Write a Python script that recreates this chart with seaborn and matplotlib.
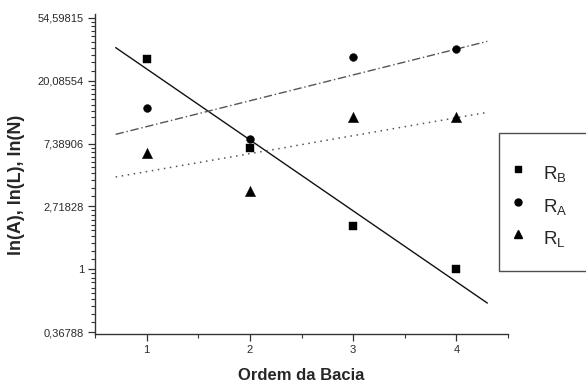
import numpy as np
import pandas as pd
import matplotlib
matplotlib.use("Agg")
import matplotlib.pyplot as plt
from matplotlib.ticker import FixedLocator, FixedFormatter
import seaborn as sns

# Data
ordem = [1, 2, 3, 4]
r_b = [28.5, 6.9, 2.0, 1.0]
r_a = [13.1, 8.0, 29.4, 33.4]
r_l = [6.4, 3.45, 11.2, 11.2]
series_names = ["R_B", "R_A", "R_L"]
legend_labels = [r"$\mathregular{R_B}$", r"$\mathregular{R_A}$", r"$\mathregular{R_L}$"]
ytick_exps = [-1, 0, 1, 2, 3, 4]
ytick_labels = ["0,36788", "1", "2,71828", "7,38906", "20,08554", "54,59815"]
xticks = [1, 2, 3, 4]

sns.set_style("ticks")
plt.rcParams["font.family"] = ["Liberation Sans", "DejaVu Sans"]
plt.rcParams["mathtext.fontset"] = "custom"
plt.rcParams["mathtext.rm"] = "Liberation Sans"

fig = plt.figure(figsize=(5.86, 3.85), dpi=100)
ax = fig.add_axes([95 / 586, 1 - 334 / 385, (508 - 95) / 586, (334 - 14) / 385])

values = {"R_B": r_b, "R_A": r_a, "R_L": r_l}
markers = {"R_B": "s", "R_A": "o", "R_L": "^"}
msizes = {"R_B": 30, "R_A": 32, "R_L": 55}
line_styles = {"R_B": ("-", "#111111", 1.0), "R_A": ((0, (6, 2, 1, 2)), "#555555", 1.0),
               "R_L": ((0, (1, 3)), "#555555", 1.1)}

xfit = np.array([0.7, 4.3])
handles = []
for name, lab in zip(series_names, legend_labels):
    df = pd.DataFrame({"ordem": ordem, "valor": values[name]})
    # linear fit in ln space
    k, b = np.polyfit(np.array(ordem, float), np.log(values[name]), 1)
    ls, col, lw = line_styles[name]
    sns.lineplot(x=xfit, y=np.exp(k * xfit + b), ax=ax, color=col, linestyle=ls, linewidth=lw,
                 legend=False)
    sns.scatterplot(data=df, x="ordem", y="valor", ax=ax, marker=markers[name], s=msizes[name],
                    color="black", edgecolor="black", linewidth=0.3, legend=False, zorder=3)
    handles.append(plt.Line2D([], [], linestyle="none", marker=markers[name], color="black",
                              markersize=5 if name != "R_L" else 6, label=lab))

ax.set_yscale("log", base=np.e)
ax.set_xlim(0.5, 4.5)
ax.set_ylim(np.exp(-1.03), np.exp(4.06))

ax.yaxis.set_major_locator(FixedLocator([np.exp(e) for e in ytick_exps]))
ax.yaxis.set_major_formatter(FixedFormatter(ytick_labels))
minor = []
for e in range(-1, 4):
    base = np.exp(e)
    for j in range(1, 10):
        minor.append(base * (1 + j * (np.e - 1) / 10))
ax.yaxis.set_minor_locator(FixedLocator(minor))
ax.yaxis.set_minor_formatter(FixedFormatter([""] * len(minor)))

ax.set_xticks(xticks)
ax.set_xticklabels([str(v) for v in xticks])
ax.xaxis.set_minor_locator(FixedLocator([0.5, 1.5, 2.5, 3.5, 4.5]))

ax.tick_params(axis="both", which="major", direction="out", length=5, width=0.9,
               labelsize=8, color="#333333", labelcolor="#2a2a2a", pad=3)
ax.tick_params(axis="both", which="minor", direction="out", length=3, width=0.8, color="#333333")

for s in ["top", "right"]:
    ax.spines[s].set_visible(False)
for s in ["left", "bottom"]:
    ax.spines[s].set_color("#333333")
    ax.spines[s].set_linewidth(1.0)

ax.set_xlabel("Ordem da Bacia", fontsize=12, fontweight="bold", labelpad=9)
ax.set_ylabel("ln(A), ln(L), ln(N)", fontsize=13, fontweight="bold")
ax.yaxis.set_label_coords(-0.170, 0.466)

leg = fig.legend(handles=handles, labels=legend_labels,
                 loc="upper left", bbox_to_anchor=(499 / 586, 1 - 270 / 385, 130 / 586, 137 / 385),
                 mode="expand", frameon=True, fancybox=False, fontsize=13.5,
                 title=" ", title_fontsize=2,
                 handlelength=0.08, handleheight=2.0, handletextpad=1.29,
                 labelspacing=0.19, borderpad=0.97, borderaxespad=0)
leg.get_frame().set_edgecolor("#222222")
leg.get_frame().set_linewidth(1.0)

fig.savefig("out.png", dpi=100)
